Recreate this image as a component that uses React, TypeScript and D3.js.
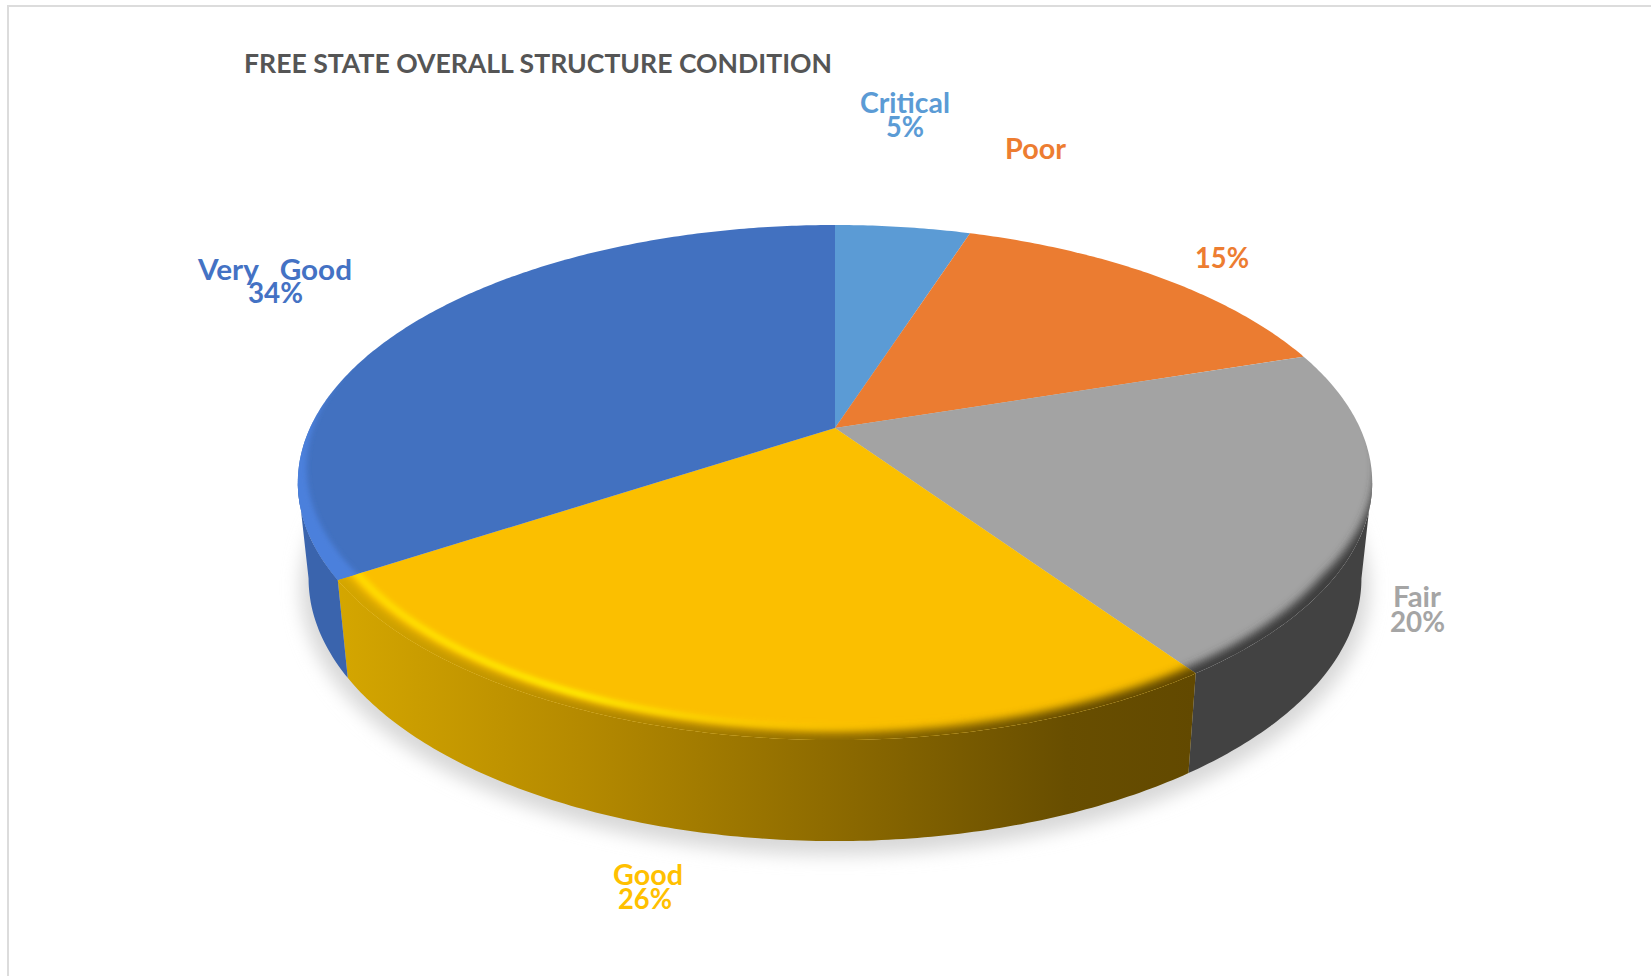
import React from 'react';
import * as d3 from 'd3';

const categories = ['Critical', 'Poor', 'Fair', 'Good', 'Very Good'];
const values = [5, 15, 20.4, 25.4, 34.2];
const percentLabels = ['5%', '15%', '20%', '26%', '34%'];
const topColors = ['#5B9BD5', '#EB7C31', '#A3A3A3', '#FBBF00', '#4271C0'];
const textColors = ['#5B9BD5', '#ED7D31', '#A5A5A5', '#FFC000', '#4472C4'];
const title = 'FREE STATE OVERALL STRUCTURE CONDITION';

// [x, baseline, width] of each text run
const nameBoxes = [[860, 113, 90], [1005, 159, 61], [1393, 607, 48], [613, 885, 70], [198, 280, 154]];
const pctBoxes = [[886, 137, 38], [1195, 268, 54], [1390, 632, 55], [618, 909, 54], [248, 303, 55]];
const displayNames = ['Critical', 'Poor', 'Fair', 'Good', 'Very\u00A0\u00A0\u00A0Good'];

// perspective of the disc
const cx = 835, R = 525, persp = -0.2117, pa = 155.4, pb = 428;
const rimMidY = 482.5, baseMidY = 578.4, baseYScale = 1.02, baseXScale = 0.98;

const top = (t: number, r = 1): [number, number] => {
  const u = r * Math.sin(t), v = -r * Math.cos(t), d = 1 + persp * v;
  return [cx + (R * u) / d, (pa * v + pb) / d];
};
const base = (t: number, r = 1): [number, number] => {
  const [x, y] = top(t, r);
  return [cx + (x - cx) * baseXScale, baseMidY + baseYScale * (y - rimMidY)];
};
const sample = (a: number, b: number) => {
  const n = Math.max(2, Math.ceil(Math.abs(b - a) * 90));
  return d3.range(n + 1).map((i) => a + ((b - a) * i) / n);
};
const rad = (deg: number) => (deg * Math.PI) / 180;
const line = d3.line<[number, number]>();

const arcs = d3.pie<number>().sort(null).value((d) => d)(values);
// the silhouette of the wall runs between the widest points of the two rims
const wallFrom = Math.acos(persp), wallTo = 2 * Math.PI - Math.acos(persp);
const wallFill = ['none', 'none', '#424242', 'url(#wallGold)', '#3A64AD'];
const edgeFill = ['none', 'none', '#3c3c3c', 'url(#wallGold)', 'none'];

// bevel width grows towards the viewer
const bevelWidth = d3.scaleLinear().domain([-0.3, 0.55]).range([0.002, 1]).clamp(true);

const band = (a: number, b: number, outer: number, w: number) => {
  const ts = sample(a, b);
  const o = ts.map((t) => top(t, outer));
  const i = ts.slice().reverse().map((t) => top(t, outer - w * bevelWidth(-Math.cos(t))));
  return line([...o, ...i]) + 'Z';
};

export default function App() {
  const circle = sample(0, Math.PI * 2);
  const shadow = line(circle.map((t) => {
    const [x, y] = base(t, 1.014);
    return [x, y + 8] as [number, number];
  })) + 'Z';

  return (
    <svg width={1651} height={976} viewBox="0 0 1651 976"
      style={{ position: 'absolute', left: 0, top: 0, background: '#fff', fontFamily: 'Lato, sans-serif', fontWeight: 700 }}>
      <defs>
        <linearGradient id="wallGold" gradientUnits="userSpaceOnUse" x1={340} x2={1195} y1={0} y2={0}>
          <stop offset="0" stopColor="#D4A600" />
          <stop offset="0.28" stopColor="#B58A00" />
          <stop offset="0.6" stopColor="#8A6800" />
          <stop offset="0.85" stopColor="#684E00" />
          <stop offset="1" stopColor="#624900" />
        </linearGradient>
        <linearGradient id="glint" gradientUnits="userSpaceOnUse" x1={340} x2={1140} y1={0} y2={0}>
          <stop offset="0" stopColor="#FFD800" stopOpacity={1} />
          <stop offset="0.3" stopColor="#FFEE00" stopOpacity={1} />
          <stop offset="0.55" stopColor="#FFD000" stopOpacity={0.55} />
          <stop offset="0.78" stopColor="#FFC000" stopOpacity={0} />
        </linearGradient>
        <filter id="blurShadow" x="-10%" y="-10%" width="120%" height="120%"><feGaussianBlur stdDeviation={9} /></filter>
        <filter id="blurBevel" x="-10%" y="-10%" width="120%" height="120%"><feGaussianBlur stdDeviation={4.2} /></filter>
        <filter id="blurGlint" x="-10%" y="-10%" width="120%" height="120%"><feGaussianBlur stdDeviation={2.4} /></filter>
        {arcs.map((a, i) => (
          <clipPath id={`slice${i}`} key={i}>
            <path d={line([top(0, 0), ...sample(a.startAngle, a.endAngle).map((t) => top(t))]) + 'Z'} />
          </clipPath>
        ))}
      </defs>

      <rect x={0} y={0} width={1651} height={976} fill="#fff" />
      <line x1={7} y1={6} x2={1651} y2={6} stroke="#DCDCDC" strokeWidth={2} />
      <line x1={8} y1={6} x2={8} y2={976} stroke="#DCDCDC" strokeWidth={2} />

      <path d={shadow} fill="#D8D8D8" filter="url(#blurShadow)" />

      {arcs.map((a, i) => {
        const s = Math.max(a.startAngle, wallFrom), e = Math.min(a.endAngle, wallTo);
        if (e <= s) return null;
        const ts = sample(s, e);
        const d = line([...ts.map((t) => top(t)), ...ts.slice().reverse().map((t) => base(t))]) + 'Z';
        return <path key={i} d={d} fill={wallFill[i]} />;
      })}

      {arcs.map((a, i) => (
        <path key={i} d={line([top(0, 0), ...sample(a.startAngle, a.endAngle).map((t) => top(t))]) + 'Z'} fill={topColors[i]} />
      ))}

      {arcs.map((a, i) => {
        if (edgeFill[i] === 'none') return null;
        const s = Math.max(a.startAngle, rad(40)) - 0.02, e = a.endAngle + 0.02;
        return (
          <g key={i} clipPath={`url(#slice${i})`}>
            <path d={band(s, e, 1.04, 0.06)} fill={edgeFill[i]} filter="url(#blurBevel)" />
          </g>
        );
      })}

      <g clipPath="url(#slice3)">
        <path d={band(arcs[3].startAngle - 0.02, arcs[3].endAngle + 0.02, 0.972, 0.014)} fill="url(#glint)" filter="url(#blurGlint)" />
      </g>
      <g clipPath="url(#slice4)">
        <path d={band(arcs[4].startAngle - 0.02, rad(318), 1.01, 0.045)} fill="#4B80DC" filter="url(#blurGlint)" />
      </g>

      <text x={244} y={73} fontSize={27} fill="#555555" textLength={588} lengthAdjust="spacingAndGlyphs">{title}</text>

      {categories.map((c, i) => (
        <g key={c} fontSize={29} fill={textColors[i]}>
          <text x={nameBoxes[i][0]} y={nameBoxes[i][1]} textLength={nameBoxes[i][2]} lengthAdjust="spacingAndGlyphs">{displayNames[i]}</text>
          <text x={pctBoxes[i][0]} y={pctBoxes[i][1]} textLength={pctBoxes[i][2]} lengthAdjust="spacingAndGlyphs">{percentLabels[i]}</text>
        </g>
      ))}
    </svg>
  );
}
